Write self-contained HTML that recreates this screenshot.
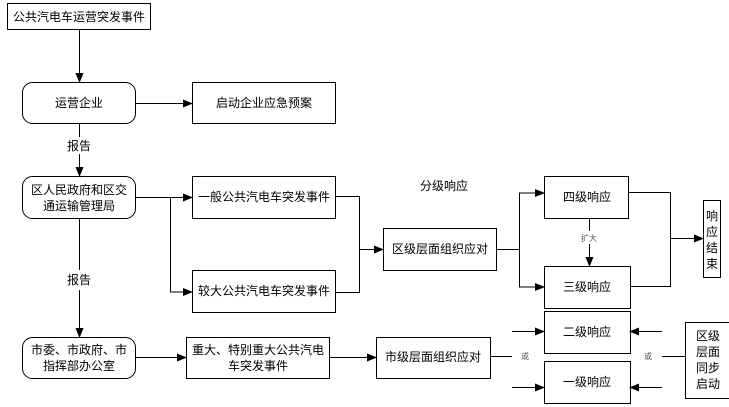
<!DOCTYPE html>
<html><head><meta charset="utf-8"><style>
html,body{margin:0;padding:0;background:#fff;width:729px;height:407px;overflow:hidden}
text{font-family:"Liberation Sans","Noto Sans CJK SC",sans-serif;font-size:12px;fill:#000}
</style></head><body>
<svg width="729" height="407" xmlns="http://www.w3.org/2000/svg">
<defs><marker id="a" markerWidth="10" markerHeight="8" refX="9" refY="4" orient="auto" markerUnits="userSpaceOnUse"><path d="M0,0L10,4L0,8z" fill="#000"/></marker></defs>
<g fill="none" stroke="#000" stroke-width="1">
<rect x="7.5" y="3.5" width="143" height="26"/>
<rect x="22.5" y="82.5" width="113" height="41" rx="10"/>
<rect x="192.5" y="82.5" width="143" height="41"/>
<rect x="22.5" y="176.5" width="113" height="42" rx="10"/>
<rect x="192.5" y="176.5" width="143" height="42"/>
<rect x="192.5" y="270.5" width="143" height="42"/>
<rect x="22.5" y="337.5" width="113" height="41" rx="10"/>
<rect x="186.5" y="337.5" width="143" height="41"/>
<rect x="383.5" y="228.5" width="113" height="42"/>
<rect x="376.5" y="337.5" width="114" height="41"/>
<rect x="544.5" y="176.5" width="84" height="42"/>
<rect x="544.5" y="266.5" width="86" height="42"/>
<rect x="544.5" y="311.5" width="86" height="42"/>
<rect x="544.5" y="361.5" width="86" height="42"/>
<rect x="703.5" y="200.5" width="17" height="77"/>
<rect x="685.5" y="322.5" width="46" height="76"/>
<path d="M79.5 29V82" marker-end="url(#a)"/>
<path d="M135 103.5H192" marker-end="url(#a)"/>
<path d="M79.5 124V137M79.5 154V176" marker-end="url(#a)"/>
<path d="M79.5 218V270M79.5 290V337" marker-end="url(#a)"/>
<path d="M135 197.5H192" marker-end="url(#a)"/>
<path d="M170.5 197V292H192" marker-end="url(#a)"/>
<path d="M335 196.5H359.5V292.5H335M359.5 249.5H383" marker-end="url(#a)"/>
<path d="M135 357.5H186" marker-end="url(#a)"/>
<path d="M329 357.5H376" marker-end="url(#a)"/>
<path d="M496 249.5H519.5V193H544" marker-end="url(#a)"/>
<path d="M519.5 249V287H544" marker-end="url(#a)"/>
<path d="M589.5 218V231M589.5 244V266" marker-end="url(#a)"/>
<path d="M628 192.5H670.5V286.5H630M670.5 238.5H703" marker-end="url(#a)"/>
<path d="M490 356.5H512"/>
<path d="M512 331.5H544" marker-end="url(#a)"/>
<path d="M512 387.5H544" marker-end="url(#a)"/>
<path d="M662 331.5H630" marker-end="url(#a)"/>
<path d="M662 387.5H630" marker-end="url(#a)"/>
<path d="M662 356.5H685"/>
</g>
<text x="79" y="21" text-anchor="middle">公共汽电车运营突发事件</text>
<text x="79" y="107" text-anchor="middle">运营企业</text>
<text x="264" y="107" text-anchor="middle">启动企业应急预案</text>
<text x="79" y="150" text-anchor="middle">报告</text>
<text x="79" y="194" text-anchor="middle">区人民政府和区交</text>
<text x="79" y="210" text-anchor="middle">通运输管理局</text>
<text x="264" y="201" text-anchor="middle">一般公共汽电车突发事件</text>
<text x="264" y="295" text-anchor="middle">较大公共汽电车突发事件</text>
<text x="79" y="284" text-anchor="middle">报告</text>
<text x="79" y="354" text-anchor="middle">市委、市政府、市</text>
<text x="79" y="370" text-anchor="middle">指挥部办公室</text>
<text x="258" y="354" text-anchor="middle">重大、特别重大公共汽电</text>
<text x="258" y="370" text-anchor="middle">车突发事件</text>
<text x="444" y="190" text-anchor="middle">分级响应</text>
<text x="440" y="253" text-anchor="middle">区级层面组织应对</text>
<text x="433" y="361" text-anchor="middle">市级层面组织应对</text>
<text x="587" y="201" text-anchor="middle">四级响应</text>
<text x="587" y="291" text-anchor="middle">三级响应</text>
<text x="587" y="336" text-anchor="middle">二级响应</text>
<text x="587" y="386" text-anchor="middle">一级响应</text>
<text x="589" y="241" text-anchor="middle" style="font-size:8px;fill:#555">扩大</text>
<text x="525" y="359" text-anchor="middle" style="font-size:8px;fill:#555">或</text>
<text x="648" y="359" text-anchor="middle" style="font-size:8px;fill:#555">或</text>
<text x="712" y="220" text-anchor="middle">响</text>
<text x="712" y="236" text-anchor="middle">应</text>
<text x="712" y="252" text-anchor="middle">结</text>
<text x="712" y="268" text-anchor="middle">束</text>
<text x="708" y="340" text-anchor="middle">区级</text>
<text x="708" y="356" text-anchor="middle">层面</text>
<text x="708" y="372" text-anchor="middle">同步</text>
<text x="708" y="388" text-anchor="middle">启动</text>
</svg>
</body></html>
